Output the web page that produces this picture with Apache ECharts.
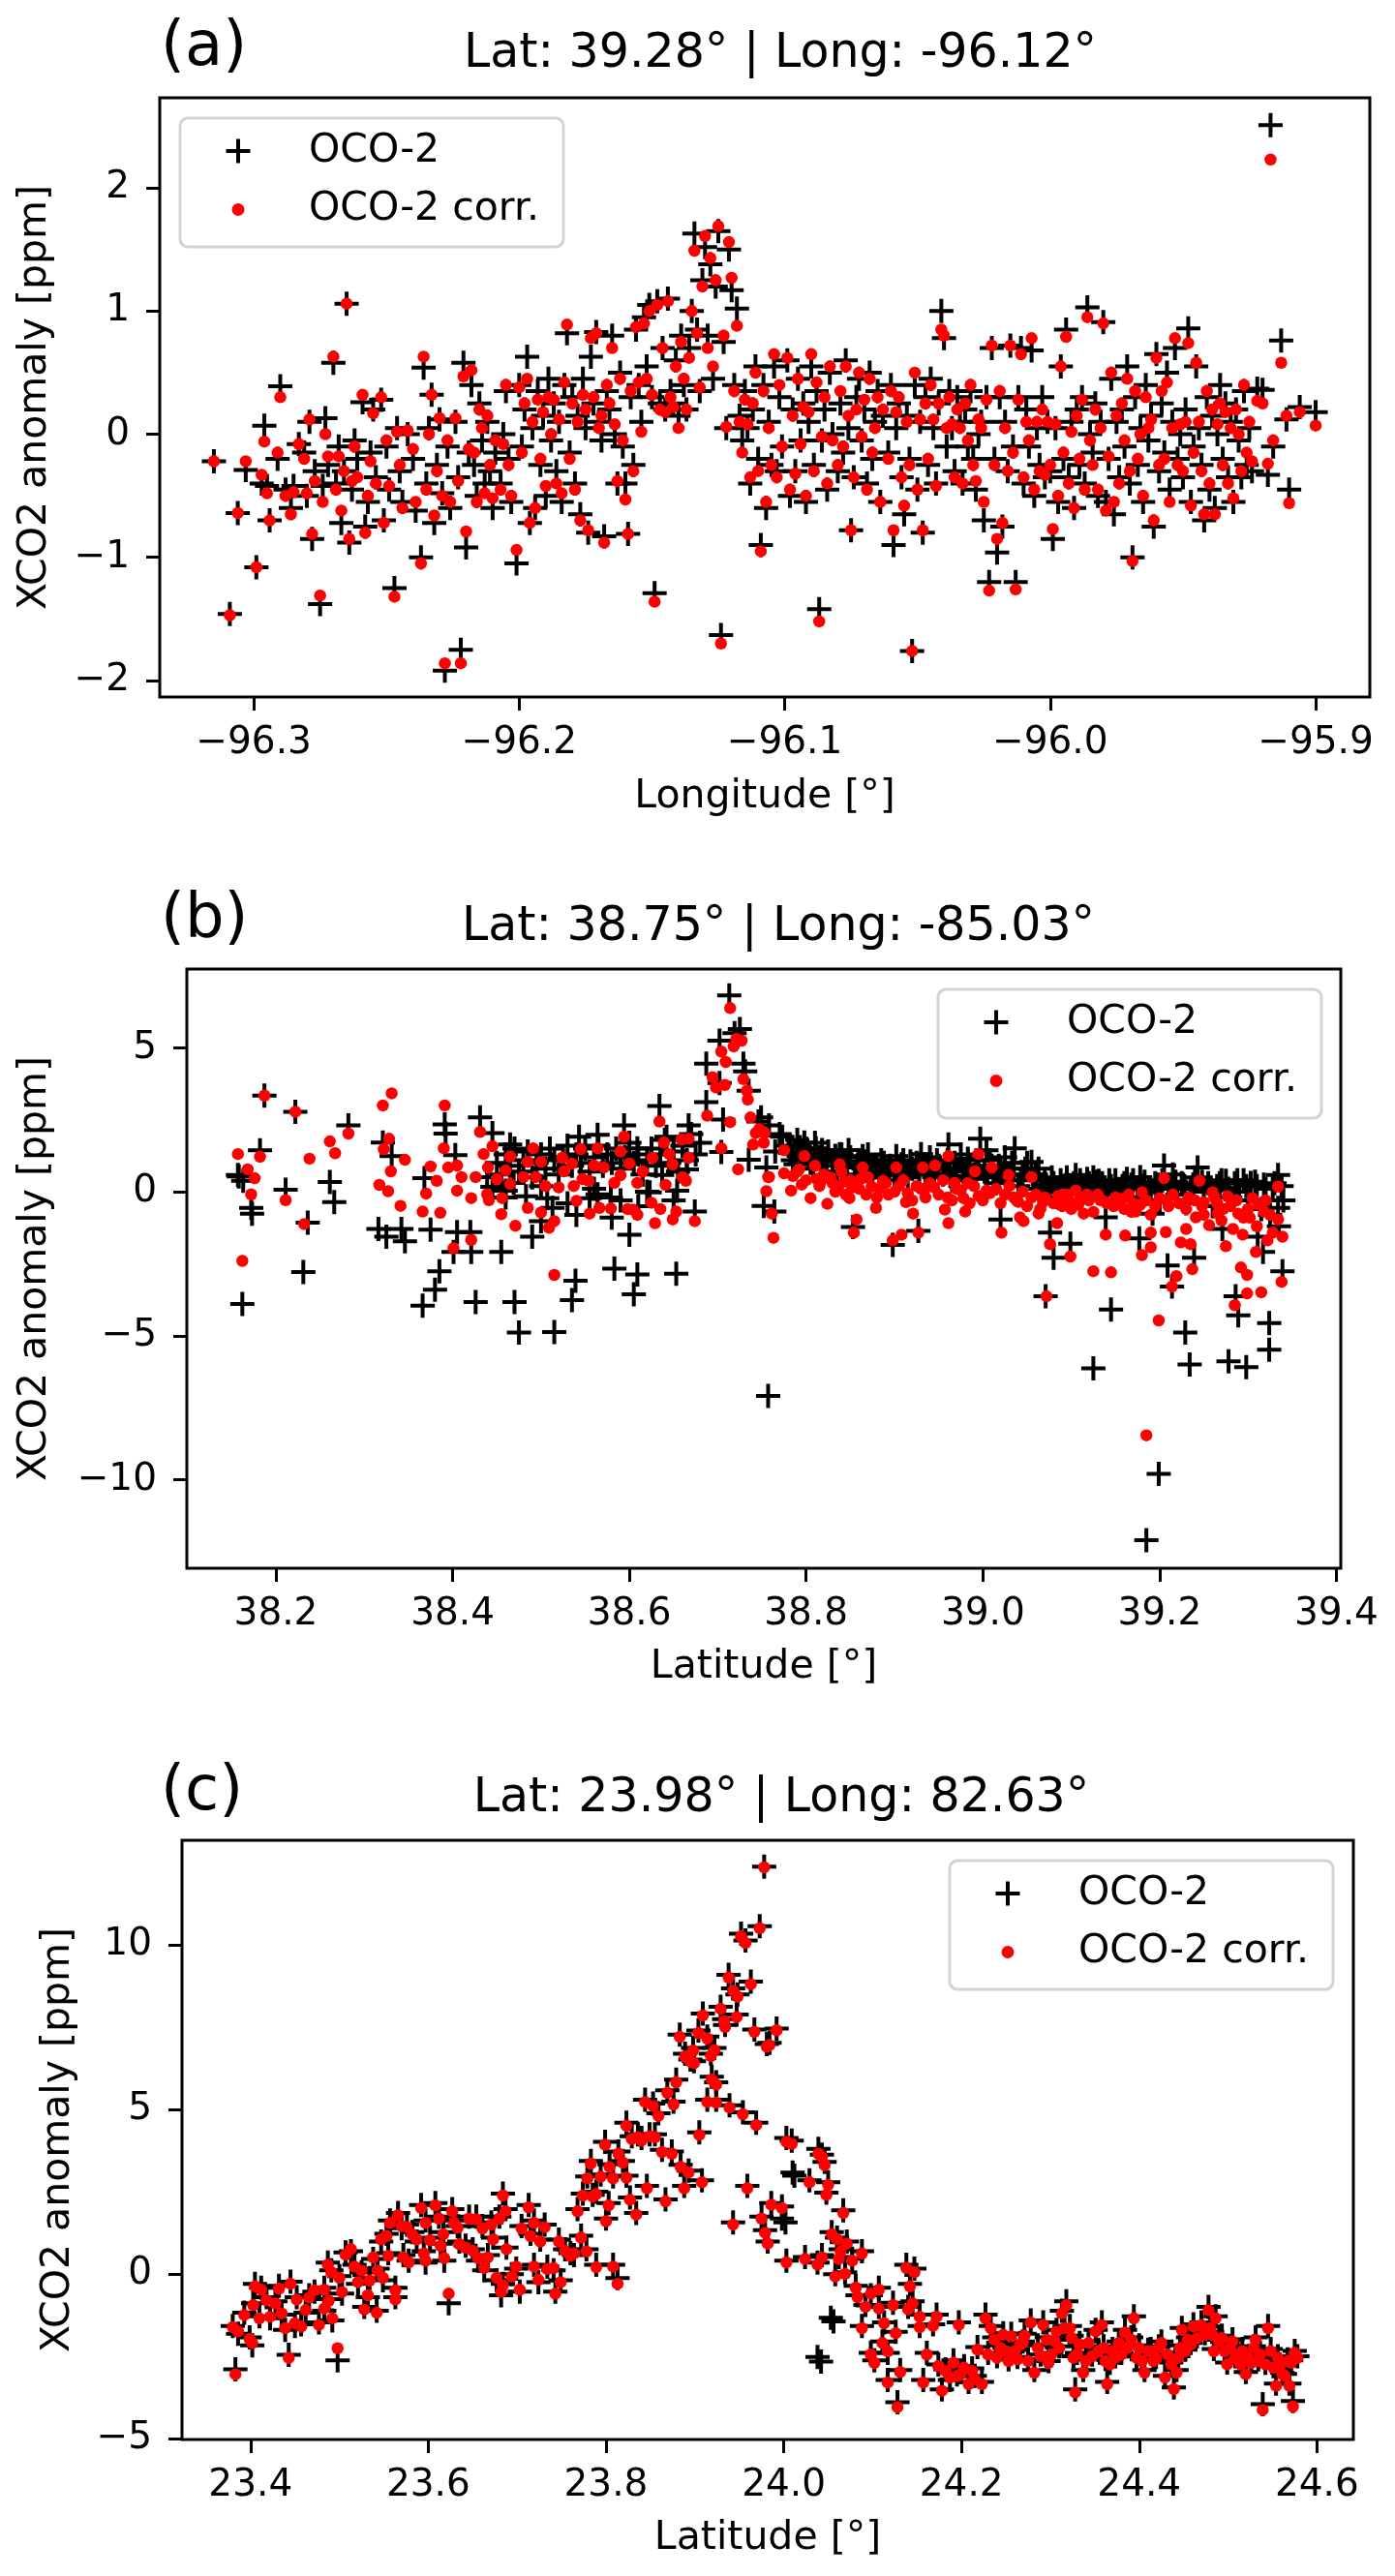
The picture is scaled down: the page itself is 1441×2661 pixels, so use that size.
<!DOCTYPE html>
<html>
<head>
<meta charset="utf-8">
<script src="https://cdn.jsdelivr.net/npm/echarts@6/dist/echarts.min.js"></script>
<style>
  html, body { margin: 0; padding: 0; background: #fff; }
  #chart { width: 1441px; height: 2661px; }
</style>
</head>
<body>
<div id="chart"></div>
<script>
// panel (a): [longitude, OCO-2, OCO-2 corr.]
const soundingsA = [
  [-96.315,-0.22,-0.22],[-96.309,-1.46,-1.47],[-96.306,-0.64,-0.64],[-96.303,-0.29,-0.22],[-96.299,-1.08,-1.08],
  [-96.296,0.07,-0.06],[-96.297,-0.40,-0.33],[-96.295,-0.42,-0.48],[-96.294,-0.70,-0.70],
  [-96.290,0.39,0.30],[-96.291,-0.20,-0.15],[-96.288,-0.45,-0.50],[-96.286,-0.60,-0.65],[-96.285,-0.42,-0.47],
  [-96.283,-0.08,-0.08],[-96.281,-0.15,-0.20],[-96.280,-0.50,-0.48],[-96.279,0.10,0.12],[-96.278,-0.85,-0.81],[-96.277,-0.30,-0.38],
  [-96.275,-1.38,-1.31],[-96.274,-0.42,-0.55],[-96.273,0.13,0.00],[-96.272,-0.25,-0.18],[-96.270,0.58,0.63],
  [-96.269,-0.40,-0.45],[-96.268,-0.10,-0.18],[-96.267,-0.72,-0.62],[-96.266,-0.30,-0.30],[-96.265,1.06,1.06],
  [-96.264,-0.88,-0.85],[-96.263,-0.45,-0.38],[-96.262,-0.05,-0.10],[-96.261,-0.20,-0.35],
  [-96.259,0.26,0.32],[-96.258,-0.75,-0.80],[-96.257,-0.55,-0.50],[-96.256,-0.15,-0.22],[-96.255,0.20,0.17],
  [-96.254,-0.35,-0.40],[-96.252,0.28,0.30],[-96.251,-0.70,-0.72],[-96.250,-0.10,-0.05],[-96.249,-0.45,-0.42],
  [-96.247,-1.25,-1.32],[-96.246,0.05,0.02],[-96.245,-0.30,-0.25],[-96.244,-0.55,-0.60],[-96.242,0.00,0.03],
  [-96.240,-0.20,-0.12],[-96.239,-0.62,-0.55],[-96.237,-1.00,-1.05],[-96.236,0.54,0.63],[-96.235,-0.40,-0.45],
  [-96.234,0.05,0.00],[-96.233,0.32,0.32],[-96.232,-0.72,-0.66],[-96.231,-0.25,-0.30],[-96.230,0.12,0.13],
  [-96.229,-0.48,-0.50],[-96.228,-1.92,-1.86],[-96.227,-0.10,-0.05],[-96.226,-0.60,-0.55],[-96.224,0.10,0.13],
  [-96.223,-0.35,-0.38],[-96.222,-1.75,-1.86],[-96.221,0.58,0.47],[-96.220,-0.92,-0.79],[-96.219,-0.15,-0.12],
  [-96.218,0.40,0.52],[-96.217,-0.25,-0.15],[-96.216,-0.50,-0.55],[-96.215,0.25,0.20],[-96.214,-0.05,0.05],
  [-96.213,-0.40,-0.48],[-96.212,0.10,0.15],[-96.211,-0.30,-0.25],[-96.210,-0.60,-0.52],[-96.209,-0.15,-0.05],
  [-96.207,-0.40,-0.45],[-96.206,0.00,-0.08],[-96.205,0.35,0.40],[-96.204,-0.20,-0.25],[-96.203,-0.55,-0.50],
  [-96.201,-1.05,-0.94],[-96.200,0.40,0.38],
  [-96.199,-0.10,-0.15],[-96.198,0.20,0.25],[-96.197,0.63,0.45],[-96.196,-0.72,-0.72],[-96.195,0.05,0.10],
  [-96.194,-0.60,-0.60],[-96.193,0.35,0.28],[-96.192,-0.25,-0.20],[-96.191,0.15,0.18],[-96.190,-0.50,-0.42],
  [-96.189,0.45,0.30],[-96.188,-0.05,0.00],[-96.187,0.25,0.28],[-96.186,-0.30,-0.40],[-96.185,0.10,0.12],
  [-96.184,-0.55,-0.48],[-96.183,0.40,0.42],[-96.182,0.82,0.89],[-96.181,-0.15,-0.20],
  [-96.180,0.30,0.25],[-96.179,-0.40,-0.45],[-96.178,0.15,0.10],[-96.177,-0.65,-0.70],[-96.176,0.45,0.32],
  [-96.175,0.05,0.20],[-96.174,-0.80,-0.78],[-96.173,0.63,0.78],[-96.172,0.25,0.30],[-96.171,0.83,0.82],
  [-96.170,0.10,0.05],[-96.169,-0.05,0.15],[-96.168,-0.83,-0.88],[-96.167,0.35,0.40],[-96.166,0.20,0.25],
  [-96.165,0.80,0.70],[-96.164,0.00,0.08],[-96.163,-0.40,-0.38],[-96.162,0.50,0.45],[-96.161,-0.10,-0.05],
  [-96.160,-0.40,-0.53],[-96.159,-0.81,-0.81],[-96.158,0.30,0.35],[-96.157,-0.25,-0.30],[-96.156,0.85,0.87],
  [-96.155,0.40,0.42],[-96.154,0.10,0.02],[-96.153,0.95,0.90],[-96.152,0.55,0.45],[-96.151,1.05,1.00],
  [-96.150,0.30,0.32],[-96.149,-1.29,-1.36],[-96.148,1.08,1.05],[-96.147,0.25,0.20],[-96.146,0.70,0.70],
  [-96.145,0.20,0.18],[-96.144,1.10,1.08],[-96.143,0.35,0.30],[-96.142,0.25,0.22],
  [-96.141,0.60,0.55],[-96.140,0.15,0.05],[-96.139,0.80,0.75],[-96.138,0.40,0.45],[-96.137,0.20,0.20],
  [-96.136,0.70,0.62],[-96.135,1.00,1.00],[-96.134,1.63,1.49],[-96.133,0.85,0.82],[-96.132,0.35,0.38],
  [-96.131,1.25,1.20],[-96.130,1.52,1.61],[-96.129,0.80,0.70],[-96.128,1.38,1.43],[-96.127,0.45,0.55],
  [-96.126,1.20,1.25],[-96.125,1.65,1.69],[-96.124,-1.63,-1.70],[-96.123,0.75,0.80],[-96.122,0.05,0.06],
  [-96.121,1.50,1.56],[-96.120,1.17,1.27],[-96.119,0.40,0.35],[-96.118,1.02,0.88],
  [-96.117,0.15,0.10],[-96.116,-0.05,-0.15],[-96.115,0.35,0.28],[-96.114,0.05,0.08],[-96.113,-0.40,-0.35],
  [-96.112,0.20,0.25],[-96.111,0.55,0.50],[-96.110,-0.20,-0.30],[-96.109,-0.90,-0.95],[-96.108,0.40,0.35],
  [-96.107,-0.60,-0.55],[-96.106,0.10,0.05],[-96.105,-0.25,-0.25],[-96.104,0.55,0.65],[-96.103,-0.30,-0.35],
  [-96.102,0.30,0.40],[-96.101,-0.10,-0.10],
  [-96.099,0.60,0.62],[-96.098,-0.50,-0.45],[-96.097,0.20,0.15],[-96.096,-0.30,-0.32],[-96.095,0.45,0.45],
  [-96.094,-0.05,-0.08],[-96.093,0.25,0.22],[-96.092,-0.55,-0.50],[-96.091,0.10,0.18],[-96.090,0.55,0.65],
  [-96.089,-0.25,-0.30],[-96.088,0.35,0.42],[-96.087,-1.42,-1.52],[-96.086,-0.05,-0.02],[-96.085,0.20,0.30],
  [-96.084,-0.45,-0.40],[-96.083,0.50,0.55],[-96.082,0.00,-0.05],
  [-96.080,-0.30,-0.25],[-96.079,0.25,0.35],[-96.078,-0.15,-0.10],[-96.077,0.60,0.55],[-96.076,0.05,0.15],
  [-96.075,-0.78,-0.78],[-96.074,-0.35,-0.35],[-96.073,0.30,0.20],[-96.072,0.45,0.50],[-96.071,-0.05,-0.02],
  [-96.070,0.20,0.28],[-96.069,-0.40,-0.45],[-96.068,0.50,0.45],[-96.067,-0.20,-0.15],[-96.066,0.10,0.05],
  [-96.065,0.35,0.30],[-96.064,-0.55,-0.55],[-96.063,0.15,0.20],[-96.061,-0.15,-0.20],
  [-96.060,0.40,0.35],[-96.059,-0.90,-0.78],[-96.058,0.05,0.18],[-96.057,0.25,0.30],[-96.056,-0.35,-0.35],
  [-96.055,-0.65,-0.58],[-96.054,0.15,0.10],[-96.053,-0.20,-0.25],[-96.052,-1.76,-1.76],[-96.051,0.40,0.50],
  [-96.050,-0.45,-0.45],[-96.049,0.10,0.12],[-96.048,-0.80,-0.78],[-96.047,0.30,0.25],[-96.046,-0.25,-0.20],
  [-96.045,0.45,0.40],[-96.044,0.05,0.12],[-96.043,-0.40,-0.42],[-96.042,0.25,0.25],[-96.041,1.00,0.85],
  [-96.040,0.78,0.80],[-96.039,-0.10,0.05],[-96.038,0.35,0.30],[-96.037,0.05,0.08],[-96.036,-0.30,-0.35],
  [-96.035,0.30,0.20],[-96.034,0.10,0.05],[-96.033,-0.40,-0.40],[-96.032,0.20,0.25],[-96.031,-0.10,-0.05],
  [-96.030,0.35,0.40],[-96.029,-0.20,-0.25],[-96.028,-0.45,-0.38],[-96.027,0.00,0.12],[-96.026,0.10,0.05],
  [-96.025,-0.70,-0.55],[-96.024,0.30,0.28],[-96.023,-1.20,-1.27],[-96.022,0.70,0.72],[-96.021,-0.20,-0.25],
  [-96.020,-0.96,-0.85],[-96.019,0.30,0.35],[-96.018,-0.75,-0.72],[-96.017,0.10,0.05],[-96.016,-0.30,-0.30],
  [-96.015,0.72,0.72],[-96.014,-0.10,-0.15],[-96.013,-1.20,-1.26],[-96.012,0.30,0.28],[-96.011,0.70,0.65],
  [-96.010,-0.40,-0.35],[-96.009,0.20,0.10],[-96.008,-0.10,-0.05],[-96.007,0.68,0.78],[-96.006,-0.50,-0.45],
  [-96.005,0.05,0.10],[-96.004,-0.25,-0.30],[-96.003,0.30,0.20],[-96.002,-0.35,-0.33],[-96.001,0.10,0.10],
  [-96.000,-0.30,-0.25],[-95.999,-0.85,-0.77],[-95.998,0.05,0.08],[-95.997,-0.55,-0.50],[-95.996,0.55,0.55],
  [-95.995,-0.20,-0.15],[-95.994,0.85,0.79],[-95.993,-0.35,-0.40],[-95.992,0.10,0.02],[-95.991,-0.60,-0.60],
  [-95.990,0.20,0.15],[-95.989,-0.25,-0.20],[-95.988,0.30,0.28],[-95.987,-0.40,-0.45],[-95.986,1.03,0.95],
  [-95.985,0.00,-0.05],[-95.984,-0.15,-0.25],[-95.983,0.25,0.20],[-95.982,-0.50,-0.45],[-95.981,0.10,0.05],
  [-95.980,0.91,0.90],[-95.979,-0.55,-0.62],[-95.978,-0.20,-0.18],[-95.977,0.45,0.50],[-95.976,-0.65,-0.55],
  [-95.975,0.10,0.15],[-95.974,-0.35,-0.40],[-95.973,0.20,0.25],[-95.972,-0.10,-0.05],[-95.971,0.55,0.45],
  [-95.970,-0.40,-0.30],[-95.969,-1.00,-1.03],[-95.968,0.30,0.35],[-95.967,-0.25,-0.20],[-95.966,0.05,0.00],
  [-95.965,-0.55,-0.50],[-95.964,0.40,0.30],[-95.963,-0.05,0.05],[-95.962,0.15,0.12],[-95.961,-0.75,-0.70],
  [-95.960,0.65,0.62],[-95.959,-0.30,-0.25],[-95.958,0.25,0.35],[-95.957,-0.15,-0.20],[-95.956,0.50,0.42],
  [-95.955,-0.45,-0.55],[-95.954,0.10,0.05],[-95.953,0.70,0.78],[-95.952,-0.20,-0.25],[-95.951,0.00,0.08],
  [-95.950,-0.35,-0.30],[-95.949,0.20,0.10],[-95.948,0.86,0.74],[-95.947,-0.55,-0.58],[-95.946,-0.10,-0.15],
  [-95.945,0.55,0.58],[-95.944,0.05,0.10],[-95.943,-0.25,-0.30],[-95.942,-0.70,-0.65],[-95.941,0.30,0.35],
  [-95.940,-0.45,-0.40],[-95.939,0.15,0.20],[-95.938,-0.60,-0.65],[-95.937,0.00,0.08],[-95.936,0.40,0.25],
  [-95.935,-0.20,-0.25],[-95.934,0.25,0.18],[-95.933,-0.35,-0.40],[-95.932,0.10,0.05],[-95.931,-0.55,-0.52],
  [-95.930,0.20,0.20],[-95.929,-0.05,0.00],[-95.928,-0.35,-0.30],[-95.927,0.35,0.40],[-95.926,-0.25,-0.15],
  [-95.925,0.05,0.10],[-95.924,-0.30,-0.22],
  [-95.922,0.37,0.27],[-95.920,0.36,0.25],[-95.918,-0.33,-0.24],[-95.917,2.51,2.23],[-95.916,-0.10,-0.05],
  [-95.913,0.76,0.58],[-95.911,0.12,0.15],[-95.910,-0.45,-0.56],[-95.906,0.22,0.18],[-95.900,0.18,0.07]
];

// panel (b): OCO-2 [latitude, anomaly]
const ocoB = [
  [38.157,0.58],[38.158,0.53],[38.162,-3.90],[38.163,0.38],[38.172,-0.56],[38.173,-0.76],[38.182,1.44],[38.187,3.34],
  [38.211,0.07],[38.222,2.78],[38.231,-2.79],[38.236,-1.07],[38.261,0.34],[38.266,-0.36],[38.282,2.31],[38.316,-1.29],
  [38.321,1.71],[38.325,-1.56],[38.331,1.24],[38.342,-1.29],[38.346,-1.72],[38.366,-3.96],[38.368,0.47],[38.375,-1.32],
  [38.380,-3.40],[38.385,-2.76],[38.391,2.34],[38.392,2.02],[38.401,-2.09],[38.403,1.27],[38.405,-1.40],[38.420,-1.40],
  [38.421,-2.09],[38.426,-3.83],[38.431,2.58],[38.439,0.51],[38.445,2.04],[38.445,0.17],[38.455,-2.09],[38.460,0.04],
  [38.465,1.64],[38.469,0.31],[38.470,-3.83],[38.475,-4.89],[38.483,-0.16],[38.490,-1.56],[38.500,-1.02],[38.507,-0.22],
  [38.513,-0.56],[38.515,-4.87],[38.535,-3.76],[38.539,-3.09],[38.543,1.91],[38.555,-0.22],[38.564,1.98],[38.564,-0.09],
  [38.579,-0.20],[38.583,-2.67],[38.594,2.31],[38.600,-1.49],[38.605,-3.56],[38.609,-2.87],[38.609,1.51],[38.623,-0.02],
  [38.634,2.98],[38.637,0.58],[38.642,1.91],[38.653,-2.85],[38.654,0.04],[38.665,0.78],[38.667,2.31],[38.674,-0.69],
  [38.687,3.11],[38.687,4.45],[38.702,5.25],[38.702,3.78],[38.704,1.38],[38.706,2.51],[38.713,6.82],[38.719,5.51],
  [38.725,5.65],[38.729,4.45],[38.731,4.18],[38.735,3.51],[38.735,1.11],[38.746,2.44],[38.752,-0.49],[38.755,0.84],
  [38.757,-7.09],
  [38.450,1.0],[38.455,0.6],[38.460,1.3],[38.465,0.9],[38.470,1.5],[38.475,0.7],[38.480,1.1],[38.485,1.4],[38.490,0.5],
  [38.495,1.0],[38.500,1.3],[38.505,0.8],[38.510,1.5],[38.515,1.1],[38.520,0.6],[38.525,1.2],[38.530,1.6],[38.535,0.9],
  [38.540,1.3],[38.545,1.0],[38.550,1.5],[38.555,0.7],[38.560,1.2],[38.565,1.6],[38.570,0.9],[38.575,1.3],[38.580,1.0],
  [38.585,1.5],[38.590,0.8],[38.595,1.2],[38.600,1.7],[38.605,1.0],[38.610,1.3],[38.615,0.6],[38.620,1.1],[38.625,1.5],
  [38.630,0.9],[38.635,1.3],[38.640,1.8],[38.645,1.0],[38.650,1.4],[38.655,0.7],[38.660,1.6],[38.665,1.1],[38.670,2.0],
  [38.675,1.3],[38.680,1.7],[38.460,-0.2],[38.500,0.2],[38.530,-0.4],[38.560,0.1],[38.590,-0.3],[38.620,0.0],[38.650,-0.3],
  [38.580,-0.9],[38.540,-0.8],[38.610,-0.5],
  [38.749,2.58],[38.758,2.31],[38.765,1.4],[38.770,2.0],[38.773,1.91],[38.780,1.6],[38.785,1.1],[38.790,1.8],[38.795,1.3],
  [38.798,1.71],[38.800,1.5],[38.805,1.0],[38.810,1.7],[38.811,1.51],[38.815,1.2],[38.820,0.9],[38.825,1.4],[38.830,1.1],
  [38.835,0.7],[38.838,1.31],[38.840,1.3],[38.845,0.9],[38.850,1.2],[38.855,0.6],[38.860,1.0],[38.864,1.24],[38.865,0.8],
  [38.870,1.3],[38.875,0.5],[38.877,0.84],[38.880,0.9],[38.885,1.1],[38.890,0.6],[38.895,0.9],[38.900,0.4],[38.902,1.24],
  [38.905,0.8],[38.910,1.1],[38.915,0.5],[38.920,0.8],[38.925,1.0],[38.930,1.31],[38.935,0.7],[38.940,1.2],[38.945,0.5],
  [38.950,0.9],[38.955,0.6],[38.960,1.1],[38.961,1.64],[38.965,0.4],[38.970,0.8],[38.975,1.3],[38.980,0.5],[38.985,0.9],
  [38.990,0.6],[38.995,1.1],[38.997,1.84],[39.004,1.44],[39.005,0.5],[39.010,0.9],[39.015,0.3],[39.020,0.7],[39.025,1.2],
  [39.030,0.4],[39.035,0.8],[39.036,1.51],[39.040,0.2],[39.045,0.6],[39.050,1.0],[39.055,1.04],[39.060,0.6],[39.065,0.1],
  [39.070,0.4],[39.075,0.0],[39.080,0.3],[39.085,-0.2],[39.090,0.2],[39.095,0.5],[39.100,0.1],[39.105,0.58],[39.110,0.4],
  [39.115,0.0],[39.120,0.3],[39.125,0.5],[39.130,0.1],[39.131,0.38],[39.135,0.3],[39.140,-0.1],[39.145,0.2],[39.150,0.4],
  [39.155,0.0],[39.160,0.3],[39.165,0.1],[39.170,0.4],[39.175,-0.2],[39.178,0.51],[39.180,0.2],[39.190,0.0],[39.195,0.3],
  [39.200,-0.3],[39.205,0.91],[39.210,0.2],[39.215,0.6],[39.220,-0.1],[39.225,0.3],[39.230,-0.4],[39.235,0.1],[39.240,0.5],
  [39.243,0.84],[39.250,0.0],[39.255,0.3],[39.260,-0.5],[39.265,0.2],[39.270,0.4],[39.275,0.38],[39.280,-0.2],[39.285,0.3],
  [39.290,0.0],[39.295,0.4],[39.300,-0.3],[39.303,0.31],[39.310,0.2],[39.315,-0.6],[39.320,0.1],[39.325,-0.8],[39.330,0.3],
  [39.334,0.58],[39.335,-1.2],[39.340,-0.3],
  [38.782,1.35],[38.788,0.95],[38.793,1.55],[38.803,1.25],[38.808,0.8],[38.818,1.45],[38.823,1.05],[38.833,1.25],
  [38.843,1.05],[38.848,1.45],[38.858,0.85],[38.868,1.05],[38.873,0.75],[38.883,0.7],[38.888,1.0],[38.893,0.75],
  [38.908,0.95],[38.913,0.7],[38.918,1.05],[38.928,0.6],[38.933,0.95],[38.943,0.8],[38.948,1.1],[38.958,0.8],
  [38.963,0.55],[38.968,1.0],[38.978,0.7],[38.983,1.15],[38.988,0.45],[38.993,0.8],[39.002,0.7],[39.008,1.1],
  [39.012,0.55],[39.018,0.9],[39.028,0.6],[39.033,1.0],[39.043,0.4],[39.048,0.8],[39.058,0.45],[39.063,0.8],
  [39.068,0.25],[39.078,0.5],[39.088,0.4],[39.093,0.05],[39.103,0.3],[39.108,0.15],[39.118,0.45],[39.123,0.2],
  [39.128,0.35],[39.138,0.15],[39.143,0.4],[39.148,0.05],[39.158,0.2],[39.163,0.45],[39.168,0.25],[39.183,0.35],
  [39.188,0.15],[39.198,0.25],[39.203,0.4],[39.213,0.1],[39.218,0.35],[39.228,0.2],[39.238,0.25],[39.248,0.35],
  [39.258,0.15],[39.268,0.3],[39.278,0.1],[39.288,0.4],[39.298,0.2],[39.308,0.35],[39.318,0.25],[39.328,0.1],[39.338,0.2],
  [38.764,-0.69],[38.853,-1.22],[38.898,-1.85],[38.927,-1.36],[39.020,-0.96],[39.076,-1.42],[39.080,-2.29],[39.099,-1.80],
  [39.071,-3.63],[39.145,-4.09],[39.125,-6.13],[39.177,-1.62],[39.209,-2.56],[39.214,-3.29],[39.229,-4.89],[39.234,-6.00],
  [39.239,-2.29],[39.199,-9.80],[39.185,-12.10],[39.278,-5.89],[39.298,-6.09],[39.324,-5.49],[39.324,-4.56],[39.289,-4.29],
  [39.286,-3.63],[39.339,-2.76],[39.334,-0.56],[39.311,-1.56],[39.317,-2.09],[39.271,-1.29],[39.192,-0.76],[39.139,-0.89]
];

// panel (b): OCO-2 corr. [latitude, anomaly]
const corrB = [
  [38.157,1.31],[38.162,-2.40],[38.168,0.78],[38.172,-0.09],[38.176,0.47],[38.182,1.22],[38.187,3.34],[38.211,-0.29],
  [38.222,2.78],[38.232,-1.12],[38.238,1.15],[38.261,1.75],[38.267,1.34],[38.282,2.02],[38.317,0.24],[38.321,3.00],
  [38.322,1.48],[38.327,0.02],[38.328,1.84],[38.330,0.71],[38.331,3.42],[38.341,-0.49],[38.346,1.11],[38.366,-0.69],
  [38.370,-0.06],[38.375,0.88],[38.382,0.38],[38.386,-0.73],[38.390,1.51],[38.391,3.00],[38.395,0.84],[38.401,-1.96],
  [38.405,0.91],[38.405,0.04],[38.410,0.51],[38.421,-1.67],[38.421,-0.22],[38.426,0.51],[38.431,2.08],[38.435,1.31],
  [38.439,-0.09],[38.440,0.84],[38.441,-0.29],[38.445,1.58],[38.450,0.44],[38.455,-0.78],[38.456,-0.22],[38.460,0.74],
  [38.465,1.22],[38.465,0.27],[38.471,-1.18],[38.480,0.51],[38.485,1.04],[38.485,-0.56],[38.491,1.51],[38.494,0.51],
  [38.500,1.04],[38.500,-0.72],[38.505,0.20],[38.509,-1.25],[38.515,-1.02],[38.515,-2.89],[38.520,0.15],[38.524,1.18],
  [38.526,0.71],[38.535,0.98],[38.537,0.20],[38.540,-0.32],[38.545,1.48],[38.547,0.44],[38.554,0.38],[38.555,-0.76],
  [38.560,0.91],[38.564,1.51],[38.566,-0.56],[38.571,0.84],[38.579,-0.58],[38.583,0.31],[38.590,0.58],[38.590,1.40],
  [38.594,1.91],[38.598,-0.60],[38.600,0.98],[38.604,-0.62],[38.609,0.31],[38.609,-0.80],[38.615,0.71],[38.625,-0.38],
  [38.626,1.18],[38.629,-1.09],[38.634,2.44],[38.635,-0.60],[38.639,1.71],[38.641,0.24],[38.645,1.31],[38.649,0.95],
  [38.649,-0.96],[38.653,-0.69],[38.659,1.82],[38.660,0.51],[38.664,0.38],[38.667,1.84],[38.667,1.18],[38.674,-1.02],
  [38.688,2.64],[38.694,3.98],[38.698,3.62],[38.704,4.87],[38.704,1.51],[38.708,3.71],[38.709,4.51],[38.714,6.38],
  [38.714,2.42],[38.718,5.05],[38.721,5.31],[38.723,0.78],[38.727,5.25],[38.729,3.91],[38.733,3.51],[38.734,3.20],
  [38.737,2.58],[38.740,1.64],[38.743,2.04],[38.747,2.18],[38.752,1.70],[38.753,2.04],[38.755,0.02],[38.757,0.51],
  [38.758,0.51],[38.761,-0.76],[38.763,-1.60],[38.775,1.44],[38.775,0.64],[38.783,0.04],[38.790,0.7],[38.792,0.78],
  [38.798,1.24],[38.800,0.4],[38.805,-0.22],[38.810,0.9],[38.815,0.2],[38.817,0.38],[38.820,0.6],[38.824,-0.42],
  [38.830,0.3],[38.836,0.11],[38.838,0.95],[38.840,0.7],[38.845,-0.1],[38.849,-0.22],[38.850,0.4],[38.854,-1.42],
  [38.857,-0.96],[38.860,0.1],[38.864,0.84],[38.870,0.5],[38.874,0.18],[38.879,-0.56],[38.880,-0.2],[38.887,0.38],
  [38.890,0.3],[38.898,-1.69],[38.900,0.0],[38.902,0.84],[38.908,-1.49],[38.910,0.4],[38.913,-0.36],[38.920,-0.3],
  [38.921,-0.76],[38.925,0.2],[38.927,-1.42],[38.932,0.84],[38.935,-0.2],[38.938,0.18],[38.940,0.3],[38.946,0.91],
  [38.950,-0.1],[38.955,0.4],[38.957,-0.62],[38.961,-1.09],[38.961,1.24],[38.965,-0.3],[38.968,0.31],[38.970,0.1],
  [38.978,-0.22],[38.980,-0.69],[38.985,-0.4],[38.990,0.2],[38.991,0.71],[38.995,1.31],[39.000,-0.3],[39.004,0.04],
  [39.010,0.84],[39.015,0.1],[39.020,-0.4],[39.021,-1.42],[39.029,0.58],[39.030,0.2],[39.035,-0.2],[39.038,-0.29],
  [39.042,-0.89],[39.045,0.0],[39.046,-1.02],[39.050,-0.5],[39.055,0.51],[39.060,-0.1],[39.063,-0.76],[39.065,-0.6],
  [39.070,-0.2],[39.072,-3.63],[39.076,-1.82],[39.080,-0.4],[39.084,-1.09],[39.090,-0.5],[39.091,-0.09],[39.095,-0.1],
  [39.099,-2.25],[39.100,-0.6],[39.105,0.04],[39.110,-0.2],[39.114,-0.76],[39.120,-0.3],[39.125,-2.76],[39.125,-0.7],
  [39.130,-0.1],[39.133,-0.29],[39.139,-1.49],[39.140,-0.4],[39.145,-2.80],[39.150,-0.2],[39.154,-0.36],[39.160,-0.6],
  [39.161,-1.52],[39.165,-0.1],[39.170,-0.4],[39.173,-0.69],[39.180,-0.02],[39.180,-2.20],[39.185,-0.3],[39.185,-8.46],
  [39.190,-1.93],[39.190,-1.42],[39.190,-0.8],[39.199,-4.47],[39.200,-0.22],[39.205,0.47],[39.207,-1.40],[39.210,-0.5],
  [39.214,-3.29],[39.215,-0.1],[39.219,-2.93],[39.224,-1.76],[39.230,-1.29],[39.230,-0.6],[39.235,-1.82],[39.237,-2.69],
  [39.240,-0.3],[39.241,-0.89],[39.245,0.38],[39.250,-0.36],[39.250,-0.8],[39.256,-1.16],[39.260,-0.02],[39.265,-0.4],
  [39.266,-0.76],[39.270,-1.0],[39.275,-1.89],[39.277,-0.16],[39.280,-0.5],[39.283,-1.29],[39.285,-3.94],[39.289,-0.76],
  [39.292,-2.63],[39.294,-1.49],[39.295,-0.9],[39.299,-3.53],[39.299,-2.89],[39.300,-0.6],[39.305,-0.22],[39.309,-2.09],
  [39.310,-1.2],[39.315,-3.49],[39.318,-0.69],[39.320,-0.3],[39.322,-1.69],[39.328,-1.42],[39.334,0.18],[39.334,-0.96],
  [39.338,-3.13],[39.339,-1.56],
  [38.785,0.55],[38.795,0.25],[38.812,0.45],[38.827,0.5],[38.833,0.0],[38.843,0.35],[38.852,0.15],[38.862,0.45],
  [38.868,-0.1],[38.883,0.1],[38.893,-0.1],[38.905,0.2],[38.915,-0.05],[38.930,0.1],[38.945,0.15],[38.960,-0.2],
  [38.975,0.05],[38.983,0.3],[38.995,-0.15],[39.008,-0.05],[39.025,-0.1],[39.040,-0.35],[39.055,-0.2],[39.068,-0.35],
  [39.085,-0.15],[39.098,-0.35],[39.108,-0.45],[39.118,-0.1],[39.135,-0.3],[39.148,-0.5],[39.158,-0.25],[39.168,-0.7],
  [39.178,-0.45],[39.195,-0.5],[39.208,-0.3],[39.222,-0.4],[39.233,-0.2],[39.248,-0.5],[39.262,-0.2],[39.272,-0.6],
  [39.287,-0.3],[39.302,-0.9],[39.312,-0.45],[39.325,-0.8]
];

// panel (c): [latitude, OCO-2, OCO-2 corr.]  (null = no corrected sounding visible)
const soundingsC = [
  [23.380,-1.58,-1.62],[23.383,-2.90,-3.05],[23.386,-1.82,-1.75],[23.393,-1.18,-1.25],[23.399,-1.93,-1.98],[23.402,-2.17,-2.10],
  [23.403,-0.89,-0.95],[23.405,-0.30,-0.38],[23.410,-1.29,-1.35],[23.412,-0.42,-0.48],[23.418,-0.71,-0.80],[23.422,-1.35,-1.30],
  [23.428,-0.83,-0.90],[23.432,-0.36,-0.45],[23.435,-1.24,-1.20],[23.439,-1.70,-1.65],[23.443,-2.46,-2.55],[23.445,-0.24,-0.30],
  [23.450,-1.58,-1.50],[23.452,-0.71,-0.78],[23.457,-1.53,-1.60],[23.462,-1.18,-1.10],[23.466,-0.65,-0.72],[23.472,-0.54,-0.50],
  [23.477,-1.47,-1.55],[23.483,-0.42,-0.48],[23.483,-1.12,-1.05],[23.487,0.34,0.28],[23.488,-0.77,-0.82],[23.491,0.11,0.05],
  [23.492,-1.41,-1.35],[23.498,-2.63,-2.26],[23.500,-0.07,-0.12],[23.503,-0.60,-0.55],[23.507,0.65,0.58],[23.513,0.69,0.75],
  [23.517,0.28,0.22],[23.521,-0.30,-0.25],[23.525,0.05,0.10],[23.528,-1.00,-1.08],[23.532,-0.71,-0.65],[23.534,-0.13,-0.20],
  [23.538,0.45,0.50],[23.542,-1.12,-1.18],[23.543,0.16,0.10],[23.547,0.98,1.05],[23.549,-0.19,-0.12],[23.553,1.22,1.15],
  [23.555,0.63,0.55],[23.557,1.62,1.55],[23.563,-0.42,-0.50],[23.563,-0.71,-0.78],[23.566,1.85,1.78],[23.570,1.39,1.45],
  [23.572,0.57,0.50],[23.576,1.50,1.42],[23.578,0.40,0.35],[23.582,1.27,1.20],[23.587,0.98,1.05],[23.592,2.09,2.00],
  [23.595,0.69,0.62],[23.597,1.62,1.55],[23.597,0.34,0.40],[23.602,1.10,1.02],[23.608,2.15,2.08],[23.612,1.74,1.68],
  [23.614,0.92,0.85],[23.617,1.27,1.20],[23.618,0.40,0.48],[23.623,-0.89,-0.60],[23.627,1.97,1.90],[23.629,1.62,1.55],
  [23.633,1.45,1.40],[23.635,0.98,0.90],[23.642,0.86,0.80],[23.646,1.74,1.68],[23.650,0.75,0.70],[23.654,1.74,1.65],
  [23.656,0.40,0.48],[23.661,1.45,1.38],[23.663,0.11,0.18],[23.667,0.57,0.50],[23.671,1.56,1.50],[23.673,1.10,1.05],
  [23.677,-0.19,-0.12],[23.680,1.74,1.68],[23.682,-0.65,-0.55],[23.684,2.44,2.38],[23.684,-0.30,-0.35],[23.687,1.97,1.90],
  [23.688,0.80,0.75],[23.694,-0.01,-0.08],[23.699,0.16,0.22],[23.703,-0.54,-0.48],[23.705,1.45,1.38],[23.713,2.09,2.02],
  [23.715,1.22,1.15],[23.719,1.62,1.55],[23.719,0.28,0.22],[23.724,-0.25,-0.18],[23.726,1.04,0.98],[23.731,1.50,1.42],
  [23.734,0.22,0.15],[23.741,0.11,0.18],[23.743,-0.54,-0.60],[23.747,1.04,0.98],[23.749,-0.19,-0.25],[23.754,0.75,0.70],
  [23.760,0.63,0.55],[23.764,0.57,0.62],[23.768,1.97,1.90],[23.772,1.16,1.10],[23.774,2.44,2.38],[23.778,0.75,0.68],
  [23.779,2.96,2.90],[23.783,3.43,3.35],[23.785,2.40,2.35],[23.789,2.50,2.42],[23.789,0.28,0.20],[23.794,3.02,2.95],
  [23.799,4.01,3.92],[23.800,1.68,1.60],[23.803,2.15,2.08],[23.804,3.33,3.25],[23.808,2.96,2.90],[23.808,0.28,0.22],
  [23.813,-0.13,-0.30],[23.814,3.72,3.65],[23.819,3.43,3.38],[23.823,2.98,2.92],[23.823,4.59,4.50],[23.827,2.32,2.25],
  [23.829,4.18,4.10],[23.834,1.85,1.80],[23.836,4.24,4.15],[23.840,4.13,4.05],[23.844,5.29,5.22],[23.846,2.67,2.60],
  [23.849,4.24,4.18],[23.853,5.17,5.10],[23.855,4.24,4.15],[23.859,4.88,4.80],[23.863,3.77,3.70],[23.867,2.26,2.20],
  [23.869,5.58,5.50],[23.874,3.72,3.65],[23.876,5.23,5.15],[23.879,5.90,5.82],[23.883,7.27,7.20],[23.884,3.31,3.25],
  [23.888,2.67,2.60],[23.889,6.69,6.60],[23.893,3.14,3.08],[23.895,6.51,6.45],[23.898,6.86,6.78],[23.899,6.46,6.40],
  [23.904,7.39,7.32],[23.905,4.30,4.22],[23.908,2.84,2.78],[23.909,7.91,7.85],[23.914,7.21,7.15],[23.914,5.29,5.22],
  [23.918,6.69,6.62],[23.919,5.99,5.90],[23.922,6.86,6.80],[23.924,5.82,5.75],[23.924,5.29,5.20],[23.929,8.11,8.05],
  [23.933,7.74,7.68],[23.934,7.56,7.50],[23.938,9.08,9.00],[23.939,5.12,5.05],[23.943,8.67,8.60],[23.943,1.56,1.50],
  [23.947,7.88,7.80],[23.948,8.49,8.42],[23.952,10.33,10.25],[23.954,4.91,4.85],[23.957,10.13,10.05],[23.959,2.67,2.60],
  [23.963,8.88,8.80],[23.967,7.42,7.35],[23.969,4.59,4.52],[23.973,10.56,10.50],[23.975,1.74,1.68],[23.978,12.37,12.35],
  [23.979,1.33,1.25],[23.981,6.98,6.90],[23.982,0.98,0.92],[23.984,7.02,6.95],[23.986,2.15,2.10],[23.992,7.45,7.40],
  [23.998,2.05,2.00],[23.998,1.68,null],[24.002,1.56,null],[24.003,4.13,4.01],[24.003,0.40,0.35],[24.009,4.05,3.95],
  [24.010,3.08,null],[24.012,2.98,null],[24.024,0.51,0.45],[24.029,2.84,2.78],[24.038,-2.52,null],[24.038,0.34,0.28],
  [24.039,3.80,3.65],[24.043,3.62,3.55],[24.043,0.57,0.50],[24.042,-2.66,null],[24.046,3.40,3.30],[24.048,2.47,2.40],
  [24.050,2.78,2.70],[24.053,-1.33,null],[24.054,1.27,1.20],[24.056,-1.44,null],[24.058,-0.01,-0.08],[24.060,1.10,1.05],
  [24.062,0.51,0.45],[24.064,0.75,0.68],[24.067,1.93,1.85],[24.069,0.05,0.00],[24.071,0.98,0.92],[24.077,0.46,0.40],
  [24.081,-0.36,-0.42],[24.083,-0.65,-0.70],[24.088,0.69,0.62],[24.088,-1.58,-1.65],[24.092,-0.94,-1.00],[24.098,-0.65,-0.60],
  [24.098,-2.40,-2.45],[24.102,-2.63,-2.70],[24.107,-0.42,-0.48],[24.107,-1.00,-1.05],[24.111,-2.05,-2.10],[24.113,-1.47,-1.50],
  [24.117,-2.40,-2.35],[24.117,-3.22,-3.30],[24.123,-0.88,-0.95],[24.126,-1.76,-1.80],[24.128,-3.90,-4.05],[24.131,-2.92,-2.98],
  [24.138,0.28,0.18],[24.140,-1.00,-1.08],[24.142,-0.30,-0.38],[24.145,-0.83,-0.90],[24.147,0.16,0.05],[24.153,-1.24,-1.30],
  [24.153,-1.58,-1.62],[24.157,-3.22,-3.30],[24.161,-2.40,-2.45],[24.168,-1.53,-1.58],[24.172,-1.24,-1.30],[24.174,-2.75,-2.80],
  [24.178,-3.51,-3.55],[24.182,-2.90,-2.95],[24.187,-3.22,-3.15],[24.191,-2.63,-2.70],[24.195,-3.05,-3.10],[24.197,-1.47,-1.55],
  [24.199,-2.98,-3.05],[24.203,-2.80,-2.85],[24.208,-3.28,-3.35],[24.212,-2.87,-2.95],[24.215,-3.10,-3.20],[24.218,-2.22,-2.30],
  [24.223,-3.28,-3.35],[24.227,-1.24,-1.35],[24.230,-2.40,-2.45],[24.233,-1.58,-1.65],[24.237,-1.93,-2.00],[24.240,-2.50,-2.55],
  [24.244,-2.17,-2.25],[24.247,-1.80,-1.85],[24.250,-2.28,-2.35],[24.253,-2.60,-2.65],[24.256,-1.82,-1.90],[24.260,-2.30,-2.35],
  [24.263,-2.52,-2.60],[24.266,-2.10,-2.15],[24.269,-2.05,-2.10],[24.271,-1.82,-1.88],[24.275,-2.60,-2.65],[24.278,-1.41,-1.48],
  [24.282,-2.92,-3.00],[24.286,-2.17,-2.25],[24.289,-2.45,-2.50],[24.292,-1.47,-1.55],[24.296,-1.93,-2.00],[24.298,-2.65,-2.70],
  [24.301,-2.40,-2.45],[24.305,-2.00,-2.05],[24.307,-1.70,-1.75],[24.310,-2.20,-2.25],[24.313,-1.12,-1.20],[24.316,-1.60,-1.65],
  [24.318,-0.83,-0.95],[24.322,-1.58,-1.65],[24.324,-1.88,-1.95],[24.326,-2.50,-2.55],[24.328,-3.51,-3.60],[24.330,-2.40,-2.45],
  [24.333,-2.10,-2.15],[24.337,-2.92,-3.00],[24.340,-2.60,-2.65],[24.343,-2.05,-2.10],[24.347,-2.45,-2.50],[24.351,-1.70,-1.75],
  [24.354,-2.30,-2.35],[24.358,-1.47,-1.55],[24.360,-2.20,-2.25],[24.362,-2.58,-2.65],[24.364,-3.28,-3.35],[24.367,-2.70,-2.75],
  [24.370,-2.28,-2.35],[24.373,-2.50,-2.55],[24.377,-2.05,-2.10],[24.380,-2.40,-2.45],[24.384,-1.70,-1.78],[24.387,-2.20,-2.25],
  [24.391,-1.93,-2.00],[24.394,-1.29,-1.35],[24.397,-2.50,-2.55],[24.400,-2.17,-2.25],[24.403,-2.60,-2.65],[24.406,-2.92,-3.00],
  [24.410,-2.30,-2.35],[24.413,-2.28,-2.35],[24.416,-2.60,-2.65],[24.419,-2.52,-2.58],[24.422,-2.20,-2.25],[24.425,-2.05,-2.10],
  [24.429,-3.10,-3.15],[24.432,-2.40,-2.45],[24.436,-2.69,-2.75],[24.439,-3.45,-3.50],[24.442,-2.92,-3.00],[24.444,-2.50,-2.55],
  [24.446,-2.17,-2.25],[24.448,-1.64,-1.70],[24.452,-2.30,-2.35],[24.455,-1.93,-2.00],[24.458,-2.10,-2.15],[24.461,-1.53,-1.60],
  [24.465,-1.90,-1.95],[24.470,-1.47,-1.55],[24.474,-1.80,-1.85],[24.478,-1.00,-1.10],[24.480,-1.60,-1.65],[24.482,-1.76,-1.85],
  [24.484,-2.28,-2.35],[24.486,-1.29,-1.35],[24.490,-2.00,-2.05],[24.493,-1.88,-1.95],[24.496,-2.30,-2.35],[24.499,-2.69,-2.75],
  [24.502,-2.20,-2.25],[24.505,-1.99,-2.05],[24.508,-2.50,-2.55],[24.511,-2.40,-2.45],[24.514,-2.70,-2.75],[24.516,-2.28,-2.35],
  [24.520,-2.98,-3.05],[24.523,-2.50,-2.55],[24.526,-2.63,-2.70],[24.529,-2.20,-2.25],[24.531,-1.93,-2.00],[24.534,-2.60,-2.65],
  [24.536,-2.40,-2.45],[24.539,-3.96,-4.13],[24.542,-2.70,-2.75],[24.545,-1.58,-1.65],[24.548,-2.28,-2.35],[24.551,-2.80,-2.85],
  [24.554,-3.33,-3.40],[24.556,-2.50,-2.55],[24.558,-2.75,-2.80],[24.561,-3.00,-3.05],[24.564,-3.04,-3.10],[24.567,-2.60,-2.65],
  [24.569,-3.33,-3.40],[24.571,-2.63,-2.70],[24.573,-3.86,-4.03],[24.575,-2.34,-2.40],[24.578,-2.50,-2.55]
];

// tick labels
const xTicksA = [-96.3, -96.2, -96.1, -96.0, -95.9];
const yTicksA = [-2, -1, 0, 1, 2];
const xTicksB = [38.2, 38.4, 38.6, 38.8, 39.0, 39.2, 39.4];
const yTicksB = [-10, -5, 0, 5];
const xTicksC = [23.4, 23.6, 23.8, 24.0, 24.2, 24.4, 24.6];
const yTicksC = [-5, 0, 5, 10];

const titles = ['Lat: 39.28° | Long: -96.12°', 'Lat: 38.75° | Long: -85.03°', 'Lat: 23.98° | Long: 82.63°'];
const letters = ['(a)', '(b)', '(c)'];

const FONT = 'DejaVu Sans';
const PLUS = 'path://M-1,-0.16H1V0.16H-1Z M-0.16,-1H0.16V1H-0.16Z';

const chart = echarts.init(document.getElementById('chart'));

function fmt(v, d) {
  return v.toFixed(d).replace('-', '\u2212');
}

function xAxis(i, min, max, ticks, name, gap) {
  return {
    type: 'value', gridIndex: i, min: min, max: max,
    name: name, nameLocation: 'middle', nameGap: gap,
    nameTextStyle: { fontFamily: FONT, fontSize: 41, color: '#000' },
    axisLine: { show: false, onZero: false },
    splitLine: { show: false },
    axisTick: { show: true, length: 14, lineStyle: { color: '#000', width: 3 }, customValues: ticks },
    axisLabel: { customValues: ticks, margin: 28, fontFamily: FONT, fontSize: 39, color: '#000',
      formatter: v => fmt(v, 1) }
  };
}

function yAxis(i, min, max, ticks, gap) {
  return {
    type: 'value', gridIndex: i, min: min, max: max,
    name: 'XCO2 anomaly [ppm]', nameLocation: 'middle', nameGap: gap, nameRotate: 90,
    nameTextStyle: { fontFamily: FONT, fontSize: 41, color: '#000' },
    axisLine: { show: false, onZero: false },
    splitLine: { show: false },
    axisTick: { show: true, length: 14, lineStyle: { color: '#000', width: 3 }, customValues: ticks },
    axisLabel: { customValues: ticks, margin: 31, fontFamily: FONT, fontSize: 39, color: '#000',
      formatter: v => fmt(v, 0) }
  };
}

function rawSeries(data, i) {
  return { name: 'OCO-2', type: 'scatter', xAxisIndex: i, yAxisIndex: i,
    symbol: PLUS, symbolSize: 25, itemStyle: { color: '#000', opacity: 1 }, data: data, silent: true, z: 2 };
}
function corrSeries(data, i) {
  return { name: 'OCO-2 corr.', type: 'scatter', xAxisIndex: i, yAxisIndex: i,
    symbol: 'circle', symbolSize: 12.5, itemStyle: { color: '#ff0000', opacity: 1 }, data: data, silent: true, z: 3 };
}

// legend frame corners
const frames = [[186, 122], [969, 1022], [981, 1922]];

function legendsFor(f) {
  const ts = { fontFamily: FONT, fontSize: 41, color: '#000' };
  return [
    { data: [{ name: 'OCO-2', icon: PLUS }], left: f[0] + 47.5, top: f[1] + 13.5, padding: 0,
      itemWidth: 25, itemHeight: 25, selectedMode: false, z: 20,
      textStyle: Object.assign({ padding: [0, 0, 0, 55.5] }, ts) },
    { data: [{ name: 'OCO-2 corr.', icon: 'circle' }], left: f[0] + 53.5, top: f[1] + 74, padding: 0,
      itemWidth: 13, itemHeight: 13, selectedMode: false, z: 20,
      textStyle: Object.assign({ padding: [0, 0, 0, 61.5] }, ts) }
  ];
}

const titleCenters = [[806, 56], [804, 958], [807, 1858]];
const letterPos = [[166, 50], [166, 951], [166, 1852]];

const graphics = [];
frames.forEach(f => {
  graphics.push({ type: 'rect', z: 10, shape: { x: f[0], y: f[1], width: 396, height: 133, r: 8 },
    style: { fill: 'rgba(255,255,255,0.8)', stroke: '#d3d3d3', lineWidth: 3 } });
});
titles.forEach((t, i) => {
  graphics.push({ type: 'text', x: titleCenters[i][0], y: titleCenters[i][1], z: 10,
    style: { text: t, fontFamily: FONT, fontSize: 49, fill: '#000', textAlign: 'center', textVerticalAlign: 'middle' } });
  graphics.push({ type: 'text', x: letterPos[i][0], y: letterPos[i][1], z: 10,
    style: { text: letters[i], fontFamily: FONT, fontSize: 64, fill: '#000', textAlign: 'left', textVerticalAlign: 'middle' } });
});

const option = {
  animation: false,
  backgroundColor: '#fff',
  grid: [
    { left: 165, top: 101, width: 1250, height: 619, show: true, borderColor: '#000', borderWidth: 3, backgroundColor: 'transparent' },
    { left: 193, top: 1001, width: 1192, height: 619, show: true, borderColor: '#000', borderWidth: 3, backgroundColor: 'transparent' },
    { left: 188, top: 1901, width: 1210, height: 619, show: true, borderColor: '#000', borderWidth: 3, backgroundColor: 'transparent' }
  ],
  xAxis: [
    xAxis(0, -96.3354, -95.8796, xTicksA, 'Longitude [°]', 83),
    xAxis(1, 38.0992, 39.405, xTicksB, 'Latitude [°]', 82),
    xAxis(2, 23.3229, 24.641, xTicksC, 'Latitude [°]', 82)
  ],
  yAxis: [
    yAxis(0, -2.134, 2.732, yTicksA, 108),
    yAxis(1, -13.077, 7.737, yTicksB, 136),
    yAxis(2, -5.03, 13.17, yTicksC, 107)
  ],
  legend: [].concat(legendsFor(frames[0]), legendsFor(frames[1]), legendsFor(frames[2])),
  graphic: graphics,
  series: [
    rawSeries(soundingsA.map(d => [d[0], d[1]]), 0),
    corrSeries(soundingsA.map(d => [d[0], d[2]]), 0),
    rawSeries(ocoB, 1),
    corrSeries(corrB, 1),
    rawSeries(soundingsC.map(d => [d[0], d[1]]), 2),
    corrSeries(soundingsC.filter(d => d[2] !== null).map(d => [d[0], d[2]]), 2)
  ]
};

chart.setOption(option);
</script>
</body>
</html>
